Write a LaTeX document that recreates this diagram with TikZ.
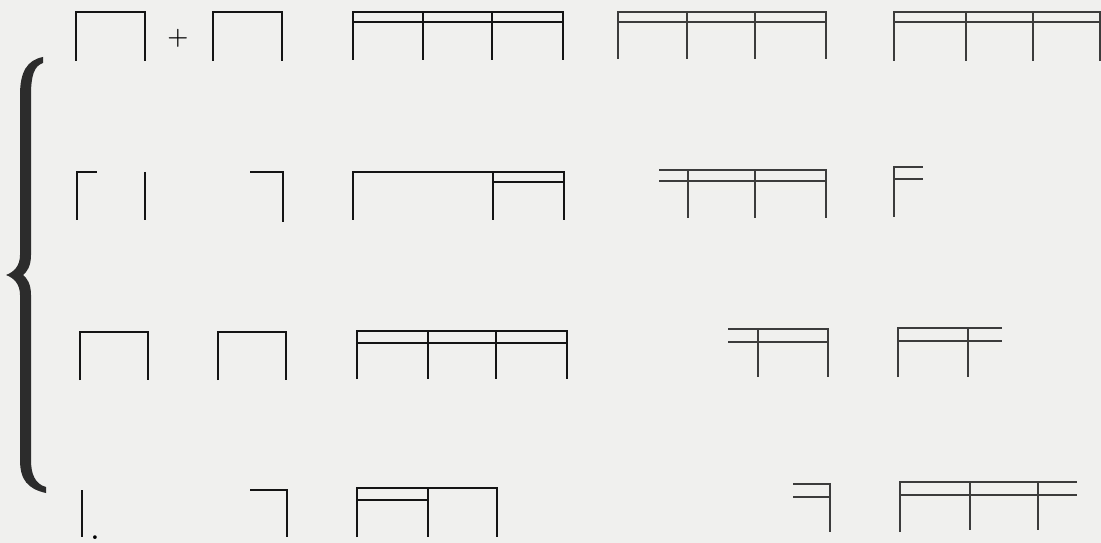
\documentclass[tikz,border=0pt]{standalone}
\usepackage{tikz}
\usetikzlibrary{positioning}
\definecolor{paper}{RGB}{240,240,238}
\definecolor{ink}{RGB}{20,20,20}
\definecolor{fadeink}{RGB}{60,60,60}

\begin{document}
\begin{tikzpicture}[x=0.01cm,y=-0.01cm,
  rail/.style={draw=ink,line width=0.7pt},
  faint/.style={draw=fadeink,line width=0.65pt},
  brace/.style={fill=ink!90}]
\fill[paper] (0,0) rectangle (1101,543);
\useasboundingbox (0,0) rectangle (1101,543);
% brace
\fill[brace] (43,57) .. controls (27,60) and (20,72) .. (20,95) -- (20,255)
  .. controls (20,266) and (14,272) .. (6,275) .. controls (14,278) and (20,284) .. (20,295)
  -- (20,460) .. controls (20,480) and (28,489) .. (46,493)
  -- (46,487) .. controls (35,484) and (31,474) .. (31,460) -- (31,295)
  .. controls (31,284) and (27,278) .. (23,275) .. controls (27,272) and (31,266) .. (31,255)
  -- (31,95) .. controls (31,76) and (34,66) .. (43,63) -- cycle;
% row 1
\draw[rail] (76,61) -- (76,12) -- (145,12) -- (145,61);
\node[font=\fontsize{7}{8}\selectfont,inner sep=0pt] (plus) at (178,38) {+};
\draw[rail] (213,61) -- (213,12) -- (282,12) -- (282,61);
\draw[rail] (353,60) -- (353,12) -- (563,12) -- (563,60);
\draw[rail] (353,22) -- (563,22);
\foreach \x in {423,492} \draw[rail] (\x,12) -- (\x,60);
\draw[faint] (618,59) -- (618,12) -- (826,12) -- (826,59);
\draw[faint] (618,22) -- (826,22);
\foreach \x in {687,755} \draw[faint] (\x,12) -- (\x,59);
\draw[faint] (894,61) -- (894,12) -- (1100,12) -- (1100,61);
\draw[faint] (894,22) -- (1100,22);
\foreach \x in {966,1033} \draw[faint] (\x,12) -- (\x,61);
% row 2
\draw[rail] (77,220) -- (77,172) -- (97,172);
\draw[rail] (145,172) -- (145,220);
\draw[rail] (250,172) -- (283,172) -- (283,222);
\draw[rail] (353,220) -- (353,172) -- (564,172) -- (564,220);
\draw[rail] (493,172) -- (493,220);
\draw[rail] (493,182) -- (564,182);
\draw[faint] (659,170) -- (826,170) -- (826,218);
\draw[faint] (659,181) -- (826,181);
\foreach \x in {688,755} \draw[faint] (\x,170) -- (\x,218);
\draw[faint] (894,217) -- (894,167) -- (923,167);
\draw[faint] (894,179) -- (923,179);
% row 3
\draw[rail] (80,380) -- (80,332) -- (148,332) -- (148,380);
\draw[rail] (218,380) -- (218,332) -- (286,332) -- (286,380);
\draw[rail] (357,379) -- (357,331) -- (567,331) -- (567,379);
\draw[rail] (357,343) -- (567,343);
\foreach \x in {428,496} \draw[rail] (\x,331) -- (\x,379);
\draw[faint] (728,329) -- (828,329) -- (828,377);
\draw[faint] (728,342) -- (828,342);
\draw[faint] (758,329) -- (758,377);
\draw[faint] (898,377) -- (898,328) -- (1002,328);
\draw[faint] (898,341) -- (1002,341);
\draw[faint] (968,328) -- (968,377);
% row 4
\draw[rail] (82,490) -- (82,537);
\node[anchor=base,inner sep=0pt] (dot) at (95,539) {.};
\draw[rail] (250,490) -- (287,490) -- (287,537);
\draw[rail] (357,537) -- (357,488) -- (497,488) -- (497,537);
\draw[rail] (428,488) -- (428,537);
\draw[rail] (357,500) -- (428,500);
\draw[faint] (793,484) -- (830,484) -- (830,532);
\draw[faint] (793,497) -- (830,497);
\draw[faint] (900,532) -- (900,482) -- (1077,482);
\draw[faint] (900,495) -- (1077,495);
\foreach \x in {970,1038} \draw[faint] (\x,482) -- (\x,530);
\end{tikzpicture}
\end{document}
